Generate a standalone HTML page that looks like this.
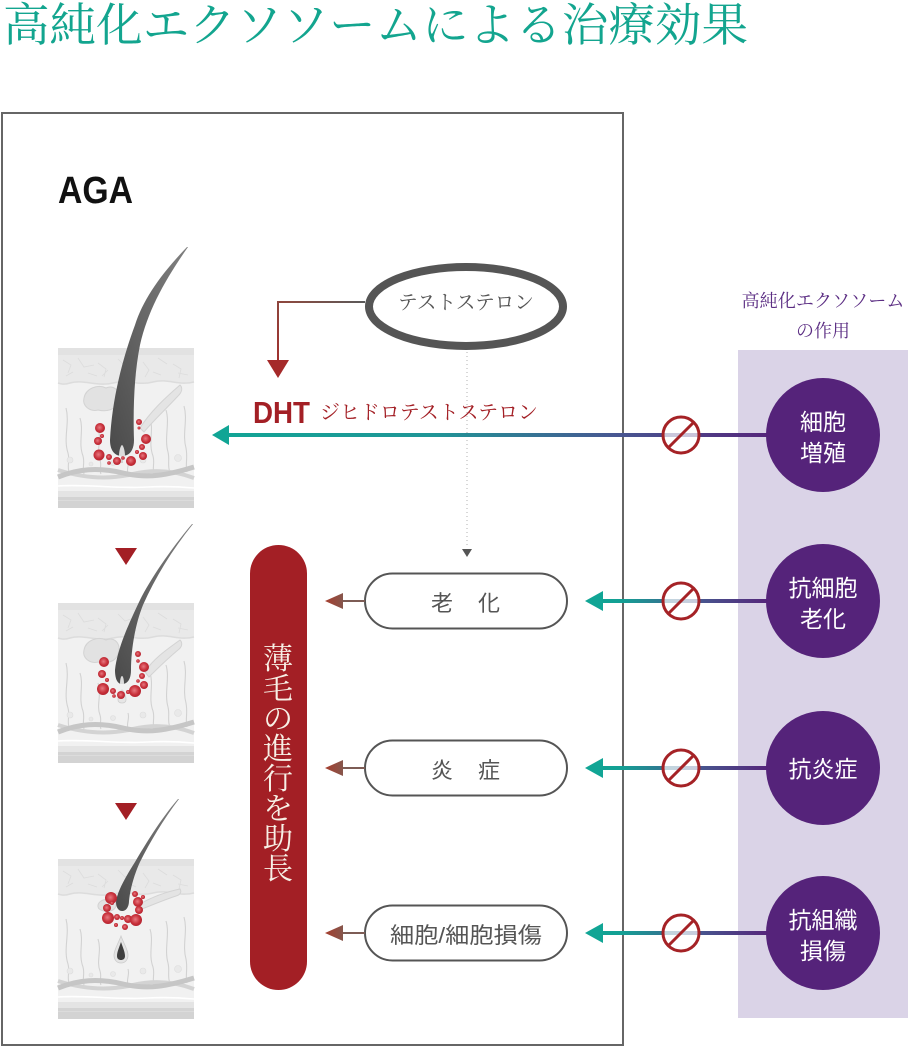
<!DOCTYPE html>
<html><head><meta charset="utf-8"><style>
html,body{margin:0;padding:0;background:#fff;}
svg{display:block;}
.serif{font-family:"Liberation Serif","Noto Serif CJK SC",serif;}
.sans{font-family:"Liberation Sans","Noto Sans CJK JP",sans-serif;}
</style></head><body>
<svg width="909" height="1048" viewBox="0 0 909 1048" xmlns="http://www.w3.org/2000/svg">
<defs>
  <linearGradient id="gLong" gradientUnits="userSpaceOnUse" x1="212" y1="0" x2="767" y2="0">
    <stop offset="0" stop-color="#11a595"/>
    <stop offset="0.4" stop-color="#1f9596"/>
    <stop offset="0.72" stop-color="#475892"/>
    <stop offset="1" stop-color="#55267b"/>
  </linearGradient>
  <linearGradient id="gShort" gradientUnits="userSpaceOnUse" x1="585" y1="0" x2="767" y2="0">
    <stop offset="0" stop-color="#11a595"/>
    <stop offset="0.2" stop-color="#13a094"/>
    <stop offset="0.6" stop-color="#465a90"/>
    <stop offset="1" stop-color="#55267b"/>
  </linearGradient>
  <linearGradient id="gConn" gradientUnits="userSpaceOnUse" x1="365" y1="302" x2="278" y2="378">
    <stop offset="0" stop-color="#5a5a5a"/>
    <stop offset="0.5" stop-color="#8a4a40"/>
    <stop offset="1" stop-color="#a52a2a"/>
  </linearGradient>
  <linearGradient id="gBrown" x1="0" y1="0" x2="1" y2="0">
    <stop offset="0" stop-color="#a63e2e"/>
    <stop offset="1" stop-color="#86564c"/>
  </linearGradient>
  <radialGradient id="dot" cx="0.45" cy="0.45" r="0.6">
    <stop offset="0" stop-color="#e77880"/>
    <stop offset="0.6" stop-color="#c8323c"/>
    <stop offset="1" stop-color="#b0202c"/>
  </radialGradient>
  <linearGradient id="hairG" x1="1" y1="0" x2="0" y2="1">
    <stop offset="0" stop-color="#808080"/>
    <stop offset="1" stop-color="#4a4a4a"/>
  </linearGradient>
  <g id="skin">
    <rect width="136" height="160" fill="#f1f1f1"/>
    <rect width="136" height="7" fill="#e2e2e2"/>
    <path d="M0,7 H136 V34 C120,38 110,30 95,34 C80,38 70,31 55,35 C40,39 25,31 12,35 C6,37 3,36 0,35 Z" fill="#e9e9e9"/>
    <path d="M0,35 C3,36 6,37 12,35 C25,31 40,39 55,35 C70,31 80,38 95,34 C110,30 120,38 136,34" fill="none" stroke="#dcdcdc" stroke-width="1.5"/>
    <path d="M5,12 l8,5 l-3,8 M20,10 l6,9 l10,-2 M40,15 l8,6 l-2,8 M60,11 l7,7 l9,-3 M85,14 l6,8 l-4,7 M100,10 l9,6 M115,16 l8,5 l-2,9 M30,25 l9,3 M70,24 l8,4 M120,25 l10,2 M8,28 l7,-4 M50,22 l-6,6 M95,24 l8,3" stroke="#dcdcdc" stroke-width="0.8" fill="none"/>
    <g fill="none" stroke="#d2d2d2" stroke-width="1.1">
      <path d="M8,60 C12,75 5,90 10,105 C12,112 9,118 11,124"/>
      <path d="M22,70 C26,82 20,95 25,108 C27,115 24,120 26,126"/>
      <path d="M40,80 C44,92 38,102 42,112 C44,118 41,122 43,126"/>
      <path d="M92,70 C96,82 90,95 95,108 C97,115 94,120 96,126"/>
      <path d="M108,62 C112,75 106,90 110,104 C112,112 109,118 112,124"/>
      <path d="M126,58 C130,72 124,86 128,100 C130,110 127,118 129,124"/>
      <path d="M70,110 C72,116 68,120 70,126"/>
    </g>
    <g fill="#e9e9e9" stroke="#dddddd" stroke-width="0.6">
      <circle cx="12" cy="112" r="3"/><circle cx="55" cy="115" r="2.5"/><circle cx="85" cy="112" r="3"/><circle cx="120" cy="110" r="3.5"/><circle cx="33" cy="116" r="2"/>
    </g>
    <path d="M0,122 C25,130 50,132 75,126 C100,120 120,124 136,130" stroke="#d3d3d3" stroke-width="4" fill="none"/>
    <path d="M0,129 C20,121 40,119 65,125 C90,131 110,127 136,119" stroke="#c6c6c6" stroke-width="5" fill="none"/>
    <path d="M0,138 C30,136 60,141 90,139 C110,138 125,139 136,140" stroke="#ffffff" stroke-width="1.6" fill="none"/>
    <rect y="143" width="136" height="6" fill="#e4e4e4"/>
    <rect y="149" width="136" height="11" fill="#d3d3d3"/>
    <rect y="152" width="136" height="1" fill="#dcdcdc"/>
  </g>
</defs>

<!-- Title -->
<text class="serif" x="3" y="41" font-size="46" fill="#13a58f" textLength="745" lengthAdjust="spacingAndGlyphs">高純化エクソソームによる治療効果</text>

<!-- Frame -->
<rect x="2" y="113" width="621" height="932" fill="none" stroke="#666" stroke-width="2"/>

<!-- Right panel -->
<rect x="738" y="350" width="170" height="668" fill="#dad3e7"/>
<text class="serif" x="823" y="307" font-size="18" fill="#5b2d83" text-anchor="middle" textLength="163" lengthAdjust="spacingAndGlyphs">高純化エクソソーム</text>
<text class="serif" x="823" y="337" font-size="18" fill="#5b2d83" text-anchor="middle">の作用</text>

<!-- AGA -->
<text x="58" y="203" font-family="Liberation Sans, sans-serif" font-weight="bold" font-size="38" fill="#111" textLength="75" lengthAdjust="spacingAndGlyphs">AGA</text>

<!-- Skin illustration 1 -->
<use href="#skin" transform="translate(58,348)"/>
<path d="M84,398 C86,388 98,384 106,388 C114,384 122,392 118,402 C116,410 106,412 98,410 C90,412 82,406 84,398 Z" fill="#e2e2e2" stroke="#d3d3d3" stroke-width="1"/>
<path d="M140,428 C150,412 165,398 180,385 C183,388 182,392 178,396 C165,410 152,422 144,432 Z" fill="#e4e4e4" stroke="#d3d3d3" stroke-width="1"/>
<path d="M187,247 C160,275 143,300 135,325 C122,360 112,400 110,440 C110,452 116,456 122,456 C129,456 134,451 134,440 C133,410 134,375 140,345 C148,310 165,280 188,247 Z" fill="url(#hairG)"/>
<path d="M119,456 C119,450 121,445 122,445 C123,445 125,450 125,456 Z" fill="#dcdcdc"/>
<line x1="122" y1="456" x2="122" y2="463" stroke="#d0d0d0" stroke-width="2"/>
<g fill="url(#dot)">
  <circle cx="100" cy="428" r="5"/><circle cx="98" cy="441" r="4"/><circle cx="102" cy="436" r="2"/>
  <circle cx="99" cy="455" r="5.5"/><circle cx="109" cy="457" r="3"/><circle cx="117" cy="461" r="4"/>
  <circle cx="131" cy="461" r="5"/><circle cx="139" cy="422" r="3"/><circle cx="139" cy="428" r="1.5"/>
  <circle cx="146" cy="439" r="5"/><circle cx="142" cy="447" r="3"/><circle cx="143" cy="456" r="4"/>
  <circle cx="137" cy="452" r="2"/><circle cx="123" cy="458" r="1.8"/><circle cx="109" cy="463" r="1.8"/>
</g>

<!-- Triangle 2 -->
<polygon points="115,548 137,548 126,565" fill="#a31f25"/>
<!-- Skin illustration 2 -->
<use href="#skin" transform="translate(58,603)"/>
<path d="M84,650 C86,640 98,636 106,640 C114,636 122,644 118,654 C116,662 106,664 98,662 C90,664 82,658 84,650 Z" fill="#e2e2e2" stroke="#d3d3d3" stroke-width="1"/>
<path d="M145,672 C152,660 166,650 180,640 C183,643 182,647 178,650 C166,660 156,670 149,677 Z" fill="#e4e4e4" stroke="#d3d3d3" stroke-width="1"/>
<path d="M192,524 C170,550 150,580 140,600 C128,625 117,650 115,670 C115,680 118,684 122,684 C127,684 131,680 131,670 C131,650 135,625 143,605 C155,578 172,550 193,524 Z" fill="url(#hairG)"/>
<path d="M120,684 C120,679 121,676 122,676 C123,676 124,679 124,684 Z" fill="#dcdcdc"/>
<path d="M118,700 C118,694 121,690 122,690 C123,690 126,694 126,700 C126,704 118,704 118,700 Z" fill="#e6e6e6" stroke="#cfcfcf" stroke-width="0.8"/>
<g fill="url(#dot)">
  <circle cx="104" cy="662" r="5"/><circle cx="102" cy="674" r="4"/><circle cx="103" cy="689" r="6"/>
  <circle cx="113" cy="691" r="3"/><circle cx="121" cy="695" r="4"/><circle cx="135" cy="691" r="6"/>
  <circle cx="138" cy="654" r="3"/><circle cx="144" cy="667" r="5"/><circle cx="142" cy="676" r="3"/>
  <circle cx="144" cy="685" r="4"/><circle cx="128" cy="692" r="2"/><circle cx="107" cy="680" r="2"/>
  <circle cx="114" cy="696" r="1.8"/><circle cx="138" cy="661" r="1.8"/><circle cx="138" cy="681" r="1.8"/>
</g>

<!-- Triangle 3 -->
<polygon points="115,803 137,803 126,820" fill="#a31f25"/>
<!-- Skin illustration 3 -->
<use href="#skin" transform="translate(58,859)"/>
<path d="M98,905 C100,899 108,898 114,901 C118,904 116,910 110,911 C104,912 97,910 98,905 Z" fill="#e2e2e2" stroke="#d3d3d3" stroke-width="1"/>
<path d="M138,905 C150,898 165,892 180,889 C182,892 180,895 176,896 C164,900 152,905 142,909 Z" fill="#e4e4e4" stroke="#d3d3d3" stroke-width="1"/>
<path d="M178,799 C160,820 145,845 135,862 C125,878 117,892 116,902 C116,908 119,911 122,911 C126,911 129,907 129,901 C130,890 134,875 140,862 C150,842 163,820 179,799 Z" fill="url(#hairG)"/>
<path d="M121,936 C124,944 128,950 128,955 C128,960 125,963 121,963 C117,963 114,960 114,955 C114,950 118,944 121,936 Z" fill="#e4e4e4" stroke="#cccccc" stroke-width="0.8"/>
<path d="M121,942 C123,948 125,952 125,956 C125,959 123,960 121,960 C119,960 117,959 117,956 C117,952 119,948 121,942 Z" fill="#3f3f3f"/>
<g fill="url(#dot)">
  <circle cx="111" cy="898" r="6"/><circle cx="107" cy="908" r="4"/><circle cx="108" cy="918" r="6"/>
  <circle cx="117" cy="917" r="3"/><circle cx="128" cy="919" r="4"/><circle cx="136" cy="920" r="6"/>
  <circle cx="138" cy="902" r="5"/><circle cx="139" cy="910" r="4"/><circle cx="135" cy="894" r="3"/>
  <circle cx="125" cy="927" r="3"/><circle cx="116" cy="925" r="2"/><circle cx="122" cy="918" r="2"/>
  <circle cx="112" cy="903" r="2"/><circle cx="143" cy="897" r="2"/>
</g>

<!-- Testosterone ellipse & connector -->
<path d="M365,302 H278 V362" fill="none" stroke="url(#gConn)" stroke-width="2"/>
<polygon points="267,360 289,360 278,378" fill="#a52a2a"/>
<ellipse cx="466" cy="306.5" rx="97" ry="39.5" fill="#fff" stroke="#555" stroke-width="8"/>
<text class="serif" x="466" y="309" font-size="20" fill="#555" text-anchor="middle" textLength="136" lengthAdjust="spacingAndGlyphs">テストステロン</text>

<!-- Dotted line -->
<line x1="467" y1="352" x2="467" y2="546" stroke="#b0b0b0" stroke-width="1" stroke-dasharray="1,3"/>
<polygon points="462,549 472,549 467,557" fill="#555"/>

<!-- DHT -->
<text x="253" y="423" font-family="Liberation Sans, sans-serif" font-weight="bold" font-size="31" fill="#a31f25" textLength="57" lengthAdjust="spacingAndGlyphs">DHT</text>
<text class="serif" x="320" y="419" font-size="20" fill="#a31f25" textLength="218" lengthAdjust="spacingAndGlyphs">ジヒドロテストステロン</text>

<!-- Row DHT arrow -->
<line x1="226" y1="435" x2="767" y2="435" stroke="url(#gLong)" stroke-width="4"/>
<polygon points="212,435 229,425 229,445" fill="#11a595"/>

<!-- Rows arrows -->
<line x1="601" y1="601" x2="767" y2="601" stroke="url(#gShort)" stroke-width="4"/>
<polygon points="585,601 603,591 603,611" fill="#11a595"/>
<line x1="601" y1="768" x2="767" y2="768" stroke="url(#gShort)" stroke-width="4"/>
<polygon points="585,768 603,758 603,778" fill="#11a595"/>
<line x1="601" y1="933" x2="767" y2="933" stroke="url(#gShort)" stroke-width="4"/>
<polygon points="585,933 603,923 603,943" fill="#11a595"/>

<!-- Prohibition signs -->
<g fill="rgba(255,255,255,0.7)" stroke="#a52226" stroke-width="3">
  <circle cx="681" cy="435" r="18"/>
  <circle cx="681" cy="601" r="18"/>
  <circle cx="681" cy="768" r="18"/>
  <circle cx="681" cy="933" r="18"/>
</g>
<g stroke="#a52226" stroke-width="3">
  <line x1="668" y1="448" x2="694" y2="422"/>
  <line x1="668" y1="614" x2="694" y2="588"/>
  <line x1="668" y1="781" x2="694" y2="755"/>
  <line x1="668" y1="946" x2="694" y2="920"/>
</g>

<!-- Purple circles -->
<g fill="#55237a">
  <circle cx="823" cy="435" r="57"/>
  <circle cx="823" cy="601" r="57"/>
  <circle cx="823" cy="768" r="57"/>
  <circle cx="823" cy="933" r="57"/>
</g>
<g class="sans" font-size="23" fill="#fff" text-anchor="middle">
  <text x="823" y="430">細胞</text>
  <text x="823" y="461">増殖</text>
  <text x="823" y="596">抗細胞</text>
  <text x="823" y="627">老化</text>
  <text x="823" y="777">抗炎症</text>
  <text x="823" y="928">抗組織</text>
  <text x="823" y="959">損傷</text>
</g>

<!-- Red pill -->
<rect x="250" y="545" width="57" height="445" rx="28.5" ry="28.5" fill="#a31f25"/>
<g class="serif" font-size="30" fill="#f7f0e6" text-anchor="middle">
  <text x="278" y="669">薄</text>
  <text x="278" y="699">毛</text>
  <text x="278" y="729">の</text>
  <text x="278" y="759">進</text>
  <text x="278" y="789">行</text>
  <text x="278" y="819">を</text>
  <text x="278" y="849">助</text>
  <text x="278" y="879">長</text>
</g>

<!-- Middle pills -->
<g fill="#fff" stroke="#555" stroke-width="2">
  <rect x="365" y="573.5" width="202" height="55" rx="27.5" ry="27.5"/>
  <rect x="365" y="740.5" width="202" height="55" rx="27.5" ry="27.5"/>
  <rect x="365" y="905.5" width="202" height="55" rx="27.5" ry="27.5"/>
</g>
<g class="sans" font-size="22" fill="#555">
  <text x="431" y="611">老</text><text x="478" y="611">化</text>
  <text x="431" y="778">炎</text><text x="478" y="778">症</text>
  <text x="390" y="943" textLength="152" lengthAdjust="spacingAndGlyphs">細胞/細胞損傷</text>
</g>

<!-- Brown small arrows -->
<g stroke="#7d5c55" stroke-width="2">
  <line x1="340" y1="601" x2="365" y2="601"/>
  <line x1="340" y1="768" x2="365" y2="768"/>
  <line x1="340" y1="933" x2="365" y2="933"/>
</g>
<g fill="url(#gBrown)">
  <polygon points="325,601 343,593 343,609"/>
  <polygon points="325,768 343,760 343,776"/>
  <polygon points="325,933 343,925 343,941"/>
</g>
</svg>
</body></html>
